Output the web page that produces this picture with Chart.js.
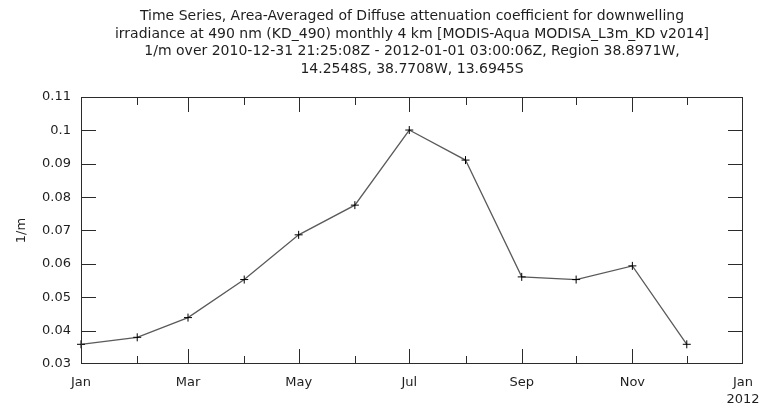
<!DOCTYPE html>
<html>
<head>
<meta charset="utf-8">
<script src="https://cdn.jsdelivr.net/npm/chart.js@4.4.1/dist/chart.umd.min.js"></script>
<style>
  html, body { margin: 0; padding: 0; background: #fff; overflow: hidden; }
  canvas { display: block; }
</style>
</head>
<body>
<canvas id="kd" width="763" height="410"></canvas>
<script>
// Monthly area-averaged KD_490 (1/m), MODIS-Aqua L3m, 2011
const monthStarts = [
  [2011, 0], [2011, 1], [2011, 2], [2011, 3], [2011, 4], [2011, 5],
  [2011, 6], [2011, 7], [2011, 8], [2011, 9], [2011, 10], [2011, 11]
];
const kd490 = [0.0359, 0.0380, 0.0439, 0.0553, 0.0687, 0.0776,
               0.1001, 0.0911, 0.0561, 0.0553, 0.0594, 0.0359];
const yTicks = [0.03, 0.04, 0.05, 0.06, 0.07, 0.08, 0.09, 0.10, 0.11];
const xTickMonths = [
  [2011, 0], [2011, 1], [2011, 2], [2011, 3], [2011, 4], [2011, 5], [2011, 6],
  [2011, 7], [2011, 8], [2011, 9], [2011, 10], [2011, 11], [2012, 0]
];
const xTickLabels = ['Jan', '', 'Mar', '', 'May', '', 'Jul', '', 'Sep', '', 'Nov', '', ['Jan', '2012']];
const titleLines = [
  'Time Series, Area-Averaged of Diffuse attenuation coefficient for downwelling',
  'irradiance at 490 nm (KD_490) monthly 4 km [MODIS-Aqua MODISA_L3m_KD v2014]',
  '1/m over 2010-12-31 21:25:08Z - 2012-01-01 03:00:06Z, Region 38.8971W,',
  '14.2548S, 38.7708W, 13.6945S'
];
const yAxisTitle = '1/m';

const FONT = 'DejaVu Sans';
const TEXT = '#1e1e1e';
const t = ([y, m]) => Date.UTC(y, m, 1);
const points = monthStarts.map((d, i) => ({ x: t(d), y: kd490[i] }));
const xTickValues = xTickMonths.map(t);

// Title block centred over the plot, plus a closed frame with inward ticks
const framePlugin = {
  id: 'frame',
  afterDraw(chart) {
    const { ctx, chartArea: a, scales } = chart;
    ctx.save();
    ctx.fillStyle = TEXT;
    ctx.font = '14px "' + FONT + '"';
    ctx.textAlign = 'center';
    ctx.textBaseline = 'middle';
    const cx = (a.left + a.right) / 2;
    titleLines.forEach((s, i) => ctx.fillText(s, cx, 16.5 + i * 17.6));

    // frame and ticks as 1px filled rectangles on whole pixels
    const L = Math.round(a.left), R = Math.round(a.right) - 1;
    const T = Math.round(a.top), B = Math.round(a.bottom) - 1;
    ctx.fillStyle = '#2b2b2b';
    ctx.fillRect(L, T, R - L + 1, 1);
    ctx.fillRect(L, B, R - L + 1, 1);
    ctx.fillRect(L, T, 1, B - T + 1);
    ctx.fillRect(R, T, 1, B - T + 1);
    xTickValues.forEach((v, i) => {
      const px = Math.min(Math.round(scales.x.getPixelForValue(v)), R);
      const len = i % 2 === 0 ? 14 : 7;
      ctx.fillRect(px, B - len, 1, len);
      ctx.fillRect(px, T + 1, 1, len);
    });
    yTicks.forEach(v => {
      const py = Math.min(Math.round(scales.y.getPixelForValue(v)), B);
      ctx.fillRect(L + 1, py, 14, 1);
      ctx.fillRect(R - 14, py, 14, 1);
    });
    ctx.restore();
  }
};

new Chart(document.getElementById('kd'), {
  type: 'line',
  data: {
    datasets: [{
      data: points,
      borderColor: '#5a5a5a',
      borderWidth: 1.3,
      pointStyle: 'cross',
      pointRadius: 4,
      pointBorderColor: '#000',
      pointBorderWidth: 1,
      pointBackgroundColor: '#000',
      tension: 0,
      fill: false,
      clip: false
    }]
  },
  options: {
    responsive: false,
    animation: false,
    devicePixelRatio: 1,
    layout: { padding: { top: 97, right: 20, left: 0, bottom: 0 } },
    plugins: { legend: { display: false }, title: { display: false }, tooltip: { enabled: false } },
    scales: {
      x: {
        type: 'linear',
        min: xTickValues[0],
        max: xTickValues[xTickValues.length - 1],
        afterBuildTicks(scale) { scale.ticks = xTickValues.map(v => ({ value: v })); },
        afterFit(scale) { scale.height = 46; scale.paddingLeft = 0; scale.paddingRight = 0; },
        grid: { display: false, drawTicks: false },
        border: { display: false },
        ticks: {
          autoSkip: false, maxRotation: 0, padding: 10,
          color: TEXT, font: { family: FONT, size: 13, lineHeight: 1.3 },
          callback: (v, i) => xTickLabels[i]
        }
      },
      y: {
        min: 0.03,
        max: 0.11,
        afterBuildTicks(scale) { scale.ticks = yTicks.map(v => ({ value: v })); },
        afterFit(scale) { scale.width = 81; scale.paddingTop = 0; scale.paddingBottom = 0; },
        grid: { display: false, drawTicks: false },
        border: { display: false },
        ticks: {
          padding: 10,
          color: TEXT, font: { family: FONT, size: 13 },
          callback: v => String(+v.toFixed(2))
        },
        title: {
          display: true, text: yAxisTitle, color: TEXT,
          font: { family: FONT, size: 13 }, padding: { top: 14, bottom: 0 }
        }
      }
    }
  },
  plugins: [framePlugin]
});
</script>
</body>
</html>
